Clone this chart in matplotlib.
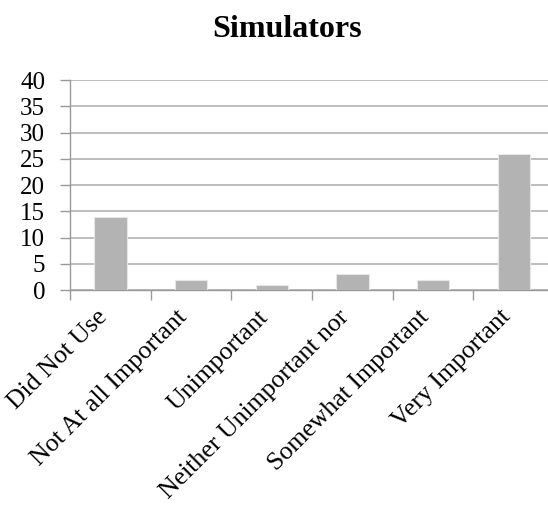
import matplotlib.pyplot as plt
import matplotlib.transforms as mtransforms
import numpy as np

categories = ["Did Not Use", "Not At all Important", "Unimportant",
              "Neither Unimportant nor", "Somewhat Important", "Very Important"]
counts = [14, 2, 1, 3, 2, 26]

plt.rcParams['font.family'] = ['Liberation Serif', 'DejaVu Serif']

fig = plt.figure(figsize=(5.48, 5.08), dpi=100)
ax = fig.add_axes([0.128, 0.429, 0.883, 0.413])

x = np.arange(len(categories))
ax.bar(x, counts, width=0.4, color='#b3b3b3', edgecolor='#e6e6e6', linewidth=0.8, zorder=3)

ax.set_xlim(-0.5, len(categories) - 0.5)
ax.set_ylim(0, 40)
ax.set_yticks(range(0, 41, 5))
ax.yaxis.grid(True, color='#b3b3b3', linewidth=1.2, zorder=0)
ax.tick_params(axis='y', labelsize=18, length=7, color='#999999', width=1, pad=11)

ax.set_xticks(np.arange(-0.5, len(categories) - 0.5 + 1, 1), minor=False)
ax.set_xticklabels([])
ax.set_xticks(x, minor=True)
ax.set_xticklabels(categories, minor=True, rotation=45, ha='right', va='center',
                   rotation_mode='anchor', fontsize=18.5)
ax.tick_params(axis='x', which='major', length=7, color='#999999', width=1)
ax.tick_params(axis='x', which='minor', length=0, pad=17)
shift = mtransforms.ScaledTranslation(-7 / 100, 0, fig.dpi_scale_trans)
for lab in ax.get_xticklabels(minor=True):
    lab.set_transform(lab.get_transform() + shift)

for side in ['top', 'right']:
    ax.spines[side].set_visible(False)
for side in ['left', 'bottom']:
    ax.spines[side].set_color('#999999')
    ax.spines[side].set_linewidth(1)

fig.text(0.524, 0.941, "Simulators", ha='center', va='center', fontsize=23, fontweight='bold')

fig.savefig("out.png", dpi=100)
